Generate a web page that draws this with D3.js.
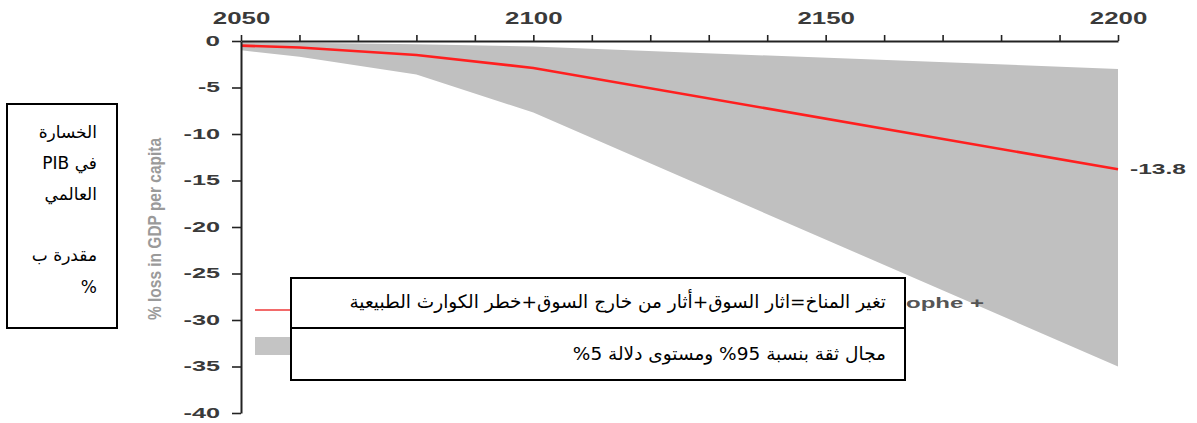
<!DOCTYPE html>
<html>
<head>
<meta charset="utf-8">
<script src="https://cdn.jsdelivr.net/npm/d3@7"></script>
<style>
  html, body { margin: 0; padding: 0; background: #fff; }
  svg { display: block; }
  .tick text { font-family: "Liberation Sans", Arial, sans-serif; }
</style>
</head>
<body>
<svg id="chart" width="1197" height="423"></svg>
<script>
// Projected loss in world GDP per capita (%), mean and 95% band
const years     = [2050, 2060, 2080, 2100, 2200];
const meanLoss  = [-0.5, -0.7, -1.5, -2.9, -13.8];
const upperLoss = [-0.1, -0.2, -0.35, -0.6, -3.0];
const lowerLoss = [-1.0, -1.7, -3.6, -7.7, -35.0];

const xTickValues = [2050, 2100, 2150, 2200];
const yTickValues = [0, -5, -10, -15, -20, -25, -30, -35, -40];

const yAxisTitle = "% loss in GDP per capita";
const legendTail = "ophe +";
const legendLineText = "تغير المناخ=اثار السوق+أثار من خارج السوق+خطر الكوارث الطبيعية";
const legendBandText = "مجال ثقة بنسبة 95% ومستوى دلالة 5%";
const sideLabelLines = ["الخسارة", "في PIB", "العالمي", "", "مقدرة ب", "%"];

const svg = d3.select("#chart");

const x = d3.scaleLinear().domain([2050, 2200]).range([241, 1118]);
const y = d3.scaleLinear().domain([0, -40]).range([41, 413]);

// wide, stretched numerals: width per glyph
const numWidth = s => Array.from(String(s)).reduce((w, c) =>
  w + (c === "-" || c === "\u2212" ? 7.5 : c === "." ? 5 : 14.5), 0);

const rows = years.map((yr, i) => ({ yr, mean: meanLoss[i], hi: upperLoss[i], lo: lowerLoss[i] }));

// confidence band
svg.append("path")
  .datum(rows)
  .attr("fill", "#c0c0c0")
  .attr("d", d3.area().x(d => x(d.yr)).y0(d => y(d.hi)).y1(d => y(d.lo)));

// mean line
svg.append("path")
  .datum(rows)
  .attr("fill", "none")
  .attr("stroke", "#ff1f1f")
  .attr("stroke-width", 2.6)
  .attr("d", d3.line().x(d => x(d.yr)).y(d => y(d.mean)));

// end value label
const endVal = d3.format(".1f")(meanLoss[meanLoss.length - 1]).replace("\u2212", "-");
svg.append("text")
  .attr("x", x(2200) + 12)
  .attr("y", y(meanLoss[meanLoss.length - 1]))
  .attr("dy", "0.35em")
  .attr("font-family", "Liberation Sans, Arial, sans-serif")
  .attr("font-size", 14)
  .attr("font-weight", "bold")
  .attr("fill", "#3a3a3a")
  .attr("textLength", numWidth(endVal))
  .attr("lengthAdjust", "spacingAndGlyphs")
  .text(endVal);

// top x axis
const xAxis = svg.append("g")
  .attr("transform", `translate(0,${y(0)})`)
  .call(d3.axisTop(x).tickValues(d3.range(2050, 2201, 10)).tickSize(6).tickSizeOuter(0)
    .tickFormat(d => xTickValues.includes(d) ? d : ""));
xAxis.select(".domain").attr("stroke", "#222").attr("stroke-width", 2);
xAxis.selectAll(".tick line").attr("stroke", "#222").attr("stroke-width", 1.6);
xAxis.selectAll(".tick text")
  .attr("y", -17)
  .attr("font-size", 16)
  .attr("font-weight", "bold")
  .attr("fill", "#3a3a3a")
  .each(function(d) {
    if (xTickValues.includes(d)) {
      d3.select(this).attr("textLength", numWidth(d) - 0.5).attr("lengthAdjust", "spacingAndGlyphs");
    }
  });

// left y axis
const yFmt = d => String(d).replace("\u2212", "-");
const yAxis = svg.append("g")
  .attr("transform", `translate(${x(2050)},0)`)
  .call(d3.axisLeft(y).tickValues(yTickValues).tickSize(9).tickSizeOuter(0).tickPadding(12)
    .tickFormat(yFmt));
yAxis.select(".domain").attr("stroke", "#222").attr("stroke-width", 2);
yAxis.selectAll(".tick line").attr("stroke", "#222").attr("stroke-width", 1.6);
yAxis.selectAll(".tick text")
  .attr("font-size", 14)
  .attr("font-weight", "bold")
  .attr("fill", "#3a3a3a")
  .attr("textLength", d => numWidth(yFmt(d)))
  .attr("lengthAdjust", "spacingAndGlyphs");

// y axis title
svg.append("text")
  .attr("transform", `translate(161,229) rotate(-90)`)
  .attr("text-anchor", "middle")
  .attr("font-family", "Liberation Sans, Arial, sans-serif")
  .attr("font-size", 19)
  .attr("font-weight", "bold")
  .attr("fill", "#9a9a9a")
  .attr("textLength", 182)
  .attr("lengthAdjust", "spacingAndGlyphs")
  .text(yAxisTitle);

// original legend swatches
svg.append("line")
  .attr("x1", 255).attr("x2", 295)
  .attr("y1", 310).attr("y2", 310)
  .attr("stroke", "#f26a6a").attr("stroke-width", 2.2);
svg.append("rect")
  .attr("x", 255).attr("y", 337).attr("width", 40).attr("height", 18)
  .attr("fill", "#c4c4c4");
svg.append("text")
  .attr("x", 906).attr("y", 303)
  .attr("dy", "0.35em")
  .attr("font-family", "Liberation Sans, Arial, sans-serif")
  .attr("font-size", 14)
  .attr("font-weight", "bold")
  .attr("fill", "#555")
  .attr("textLength", 78)
  .attr("lengthAdjust", "spacingAndGlyphs")
  .text(legendTail);

// Arabic legend box
const lg = svg.append("g");
lg.append("rect")
  .attr("x", 291).attr("y", 278).attr("width", 614).attr("height", 102)
  .attr("fill", "#fff").attr("stroke", "#000").attr("stroke-width", 2);
lg.append("line")
  .attr("x1", 291).attr("x2", 905).attr("y1", 328).attr("y2", 328)
  .attr("stroke", "#000").attr("stroke-width", 2);
[legendLineText, legendBandText].forEach((t, i) => {
  lg.append("text")
    .attr("x", 886).attr("y", 302 + i * 52)
    .attr("dy", "0.35em")
    .attr("direction", "rtl")
    .attr("text-anchor", "start")
    .attr("font-family", "DejaVu Sans, sans-serif")
    .attr("font-size", 18.5)
    .attr("fill", "#000")
    .text(t);
});

// side label box
const sb = svg.append("g");
sb.append("rect")
  .attr("x", 7).attr("y", 104).attr("width", 110).attr("height", 224)
  .attr("fill", "#fff").attr("stroke", "#000").attr("stroke-width", 2);
const lineY = [132, 163, 194, 224, 255, 287];
sideLabelLines.forEach((t, i) => {
  if (!t) return;
  sb.append("text")
    .attr("x", 97).attr("y", lineY[i])
    .attr("dy", "0.35em")
    .attr("direction", "rtl")
    .attr("text-anchor", "start")
    .attr("font-family", "DejaVu Sans, sans-serif")
    .attr("font-size", 17)
    .attr("fill", "#000")
    .text(t);
});
</script>
</body>
</html>
